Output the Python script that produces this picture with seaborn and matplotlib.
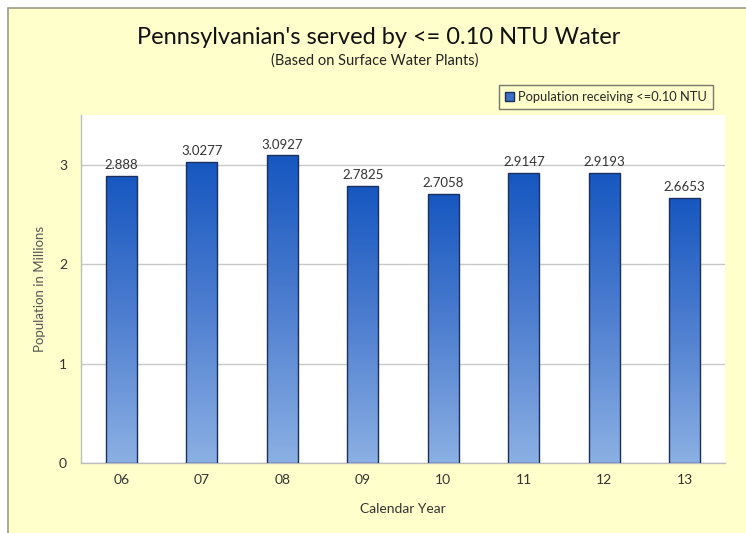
import numpy as np
import pandas as pd
import matplotlib
matplotlib.use('Agg')
import matplotlib.pyplot as plt
import seaborn as sns
from matplotlib.colors import LinearSegmentedColormap
from matplotlib.patches import Rectangle, Patch

years = ['06', '07', '08', '09', '10', '11', '12', '13']
population = [2.888, 3.0277, 3.0927, 2.7825, 2.7058, 2.9147, 2.9193, 2.6653]
labels = ['2.888', '3.0277', '3.0927', '2.7825', '2.7058', '2.9147', '2.9193', '2.6653']

data = pd.DataFrame({'year': years, 'pop': population})

sns.set_style('white')
plt.rcParams['font.family'] = ['Lato', 'DejaVu Sans']

fig = plt.figure(figsize=(7.46, 5.33), dpi=100)
fig.patch.set_facecolor('white')
# yellow chart background with thin grey frame
fig.patches.append(Rectangle((8/746, -0.01), 1.0, 1 - 8/533 + 0.01, transform=fig.transFigure,
                             facecolor='#FFFFCC', edgecolor='#9a9a8a', linewidth=1.2, zorder=-10))

ax = fig.add_axes([81/746, 1 - 463/533, 644/746, 348/533])
ax.set_facecolor('white')

sns.barplot(data=data, x='year', y='pop', ax=ax, width=0.38, color='#3a6cc8',
            edgecolor='#1c2f5c', linewidth=1.0, zorder=3)

# vertical gradient fill inside each bar
cmap = LinearSegmentedColormap.from_list('blu', ['#8bb0e3', '#4f7fd0', '#1657c0'])
grad = np.linspace(0, 1, 256).reshape(-1, 1)
for p in ax.patches:
    x0, w, h = p.get_x(), p.get_width(), p.get_height()
    im = ax.imshow(grad, cmap=cmap, origin='lower', aspect='auto',
                   extent=[x0, x0 + w, 0, h], zorder=3)
    im.set_clip_path(p)
    p.set_facecolor('none')
    p.set_zorder(4)

for i, v in enumerate(population):
    ax.text(i, v + 0.05, labels[i], ha='center', va='bottom', fontsize=9.5, color='#333333')

ax.set_xlim(-0.5, 7.5)
ax.set_ylim(0, 3.5)
ax.set_yticks([0, 1, 2, 3])
ax.yaxis.grid(True, color='#c8c8c8', linewidth=1.0, zorder=0)
ax.set_axisbelow(True)
for s in ['top', 'right']:
    ax.spines[s].set_visible(False)
for s in ['left', 'bottom']:
    ax.spines[s].set_color('#bdbdbd')
    ax.spines[s].set_linewidth(1.0)
ax.tick_params(axis='both', labelsize=10, colors='#333333', length=0, pad=8)
ax.tick_params(axis='y', pad=10)

ax.set_xlabel('Calendar Year', fontsize=10, color='#333333', labelpad=12)
ax.set_ylabel('Population in Millions', fontsize=9.5, color='#555555', labelpad=9)

fig.text(0.508, 1 - 37/533, "Pennsylvanian's served by <= 0.10 NTU Water", ha='center', va='center',
         fontsize=17, color='#111111')
fig.text(0.503, 1 - 61/533, '(Based on Surface Water Plants)', ha='center', va='center',
         fontsize=10.5, color='#222222')

handle = Patch(facecolor='#3f70c8', edgecolor='#1c2f5c', label='Population receiving <=0.10 NTU')
leg = fig.legend(handles=[handle], loc='upper right', bbox_to_anchor=(719/746, 1 - 79/533),
                 fontsize=9.3, frameon=True, fancybox=False, handlelength=0.7, handleheight=0.7,
                 handletextpad=0.3, borderpad=0.45)
leg.get_frame().set_facecolor('#FFFFCC')
leg.get_frame().set_edgecolor('#555555')
leg.get_frame().set_linewidth(1.0)

fig.savefig('out.png', dpi=100)
